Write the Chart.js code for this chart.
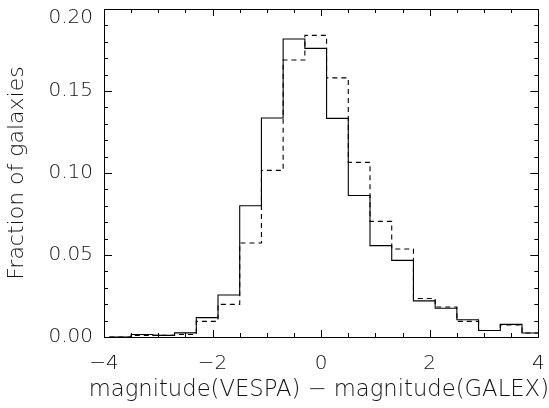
<!DOCTYPE html>
<html>
<head>
<meta charset="utf-8">
<script src="https://cdn.jsdelivr.net/npm/chart.js@4"></script>
<style>
  html, body { margin: 0; padding: 0; background: #fff; }
  #wrap { width: 549px; height: 408px; }
</style>
</head>
<body>
<div id="wrap"><canvas id="c" width="549" height="408"></canvas></div>
<script>
// Histogram bin edges (width 0.4 mag) and the fraction of galaxies per bin
const binEdges = [-3.9, -3.5, -3.1, -2.7, -2.3, -1.9, -1.5, -1.1, -0.7, -0.3,
                  0.1, 0.5, 0.9, 1.3, 1.7, 2.1, 2.5, 2.9, 3.3, 3.7, 4.1];
const solidFrac = [0.0, 0.0015, 0.001, 0.0025, 0.0118, 0.0256, 0.080, 0.1335, 0.1817, 0.176,
                   0.1333, 0.0863, 0.0557, 0.0467, 0.022, 0.0175, 0.0105, 0.004, 0.0077, 0.0024];
const dashedFrac = [0.0, 0.001, 0.001, 0.0015, 0.0095, 0.0199, 0.0573, 0.1016, 0.1689, 0.1839,
                    0.158, 0.1065, 0.0705, 0.0537, 0.0235, 0.0183, 0.0095, 0.004, 0.0073, 0.0024];
const xTickValues = [-4, -2, 0, 2, 4];
const yTickValues = [0.00, 0.05, 0.10, 0.15, 0.20];

const xLabel = 'magnitude(VESPA) \u2212 magnitude(GALEX)';
const yLabel = 'Fraction of galaxies';

const FONT = '"DejaVu Sans", sans-serif';
const INK = '#000';
const TEXT = '#111';
const CAPTION_SIZE = 22.7;
const CAPTION_BOX = CAPTION_SIZE * 1.2 + 4;

// step outline: each bin starts at its left edge, the last value is carried to the final edge
function stepPoints(edges, vals) {
  const pts = vals.map((v, i) => ({ x: edges[i], y: v }));
  pts.push({ x: edges[edges.length - 1], y: vals[vals.length - 1] });
  return pts;
}

// frame around the plot with inward ticks on all four sides
const frameTicks = {
  id: 'frameTicks',
  afterDatasetsDraw(chart) {
    const { ctx, chartArea: a, scales: { x, y } } = chart;
    ctx.save();
    ctx.strokeStyle = INK;
    ctx.lineWidth = 1;
    ctx.beginPath();
    ctx.rect(Math.round(a.left) + 0.5, Math.round(a.top) + 0.5,
             Math.round(a.right - a.left), Math.round(a.bottom - a.top));
    ctx.stroke();
    ctx.beginPath();
    for (let k = 0; k <= 16; k++) {
      const v = -4 + k * 0.5;
      const len = (k % 4 === 0) ? 7 : 4;
      const px = Math.round(x.getPixelForValue(v)) + 0.5;
      ctx.moveTo(px, a.bottom); ctx.lineTo(px, a.bottom - len);
      ctx.moveTo(px, a.top); ctx.lineTo(px, a.top + len);
    }
    for (let k = 0; k <= 20; k++) {
      const v = k * 0.01;
      const len = (k % 5 === 0) ? 8 : 4;
      const py = Math.round(y.getPixelForValue(v)) + 0.5;
      ctx.moveTo(a.left, py); ctx.lineTo(a.left + len, py);
      ctx.moveTo(a.right, py); ctx.lineTo(a.right - len, py);
    }
    ctx.stroke();
    ctx.restore();
  }
};

new Chart(document.getElementById('c'), {
  type: 'line',
  data: {
    datasets: [
      {
        data: stepPoints(binEdges, solidFrac),
        borderColor: INK, borderWidth: 1.1, stepped: 'before',
        pointRadius: 0, fill: false
      },
      {
        data: stepPoints(binEdges, dashedFrac),
        borderColor: INK, borderWidth: 1.1, stepped: 'before', borderDash: [5, 4],
        pointRadius: 0, fill: false
      }
    ]
  },
  options: {
    responsive: false,
    animation: false,
    layout: { padding: { top: 9, right: 0, left: 0, bottom: 0 } },
    plugins: {
      legend: { display: false },
      tooltip: { enabled: false },
      // x-axis caption, set below the plot and allowed the full canvas width
      title: {
        display: true, position: 'bottom', align: 'end', text: xLabel, color: TEXT,
        font: { family: FONT, size: CAPTION_SIZE, weight: 200, lineHeight: 1.2 },
        padding: { top: 0, bottom: 4 }
      }
    },
    scales: {
      x: {
        type: 'linear', min: -4, max: 4,
        grid: { display: false },
        border: { display: false },
        afterBuildTicks: s => { s.ticks = xTickValues.map(v => ({ value: v })); },
        ticks: {
          color: TEXT, font: { family: FONT, size: 20, weight: 200 }, padding: 7,
          maxRotation: 0,
          callback: v => (v < 0 ? '\u2212' + Math.abs(v) : String(v))
        },
        afterFit: s => { s.height = 408 - 337 - CAPTION_BOX; s.paddingLeft = 0; s.paddingRight = 0; }
      },
      y: {
        type: 'linear', min: 0, max: 0.2,
        grid: { display: false },
        border: { display: false },
        afterBuildTicks: s => { s.ticks = yTickValues.map(v => ({ value: v })); },
        ticks: {
          color: TEXT, font: { family: FONT, size: 20, weight: 200, lineHeight: 0.85 }, padding: 3,
          // the top label is pushed one half line down so it stays inside the canvas
          callback: v => (v >= 0.2 ? ['', v.toFixed(2)] : v.toFixed(2))
        },
        title: { display: true, text: yLabel, color: TEXT,
                 font: { family: FONT, size: 22, weight: 200 }, padding: { top: 4, bottom: 0 } },
        afterFit: s => { s.width = 104; s.paddingTop = 0; s.paddingBottom = 0; }
      },
      // unlabelled right-hand axis of the frame
      yRight: {
        type: 'linear', position: 'right', min: 0, max: 0.2,
        grid: { display: false },
        border: { display: false },
        ticks: { display: false },
        afterFit: s => { s.width = 10.7; s.paddingTop = 0; s.paddingBottom = 0; }
      }
    }
  },
  plugins: [frameTicks]
});
</script>
</body>
</html>
